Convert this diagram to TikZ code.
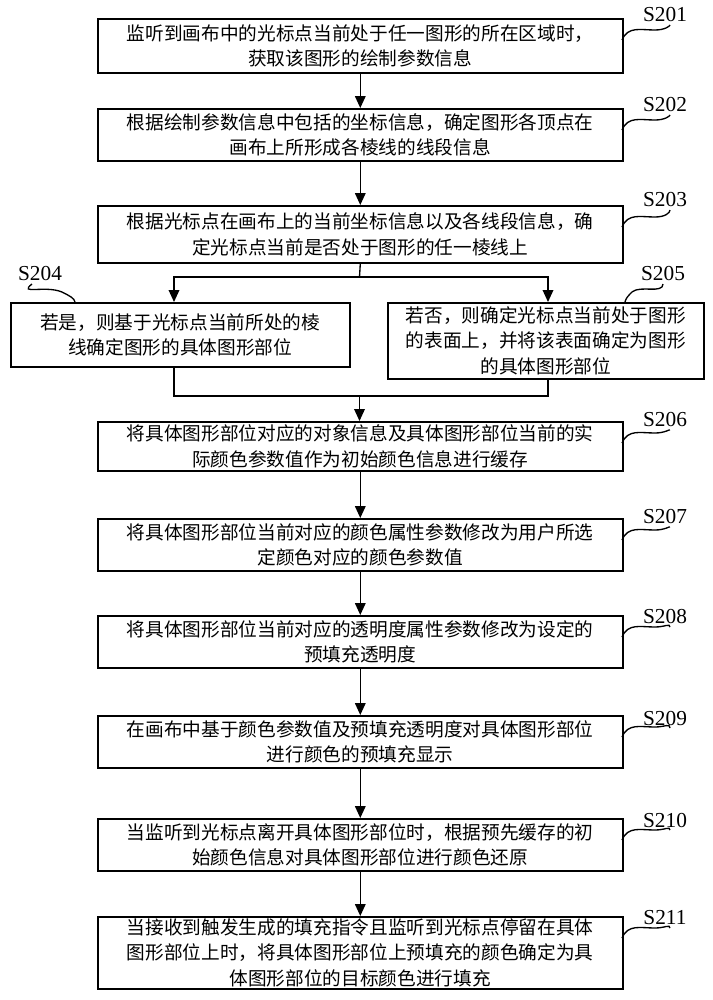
\documentclass[tikz,border=0pt]{standalone}
\usepackage{fontspec}
\setmainfont{Liberation Serif}
\newfontfamily\cjk{Noto Sans CJK SC}
\usetikzlibrary{arrows.meta}
\begin{document}
\begin{tikzpicture}[x=0.75pt,y=-0.75pt,
 box/.style={draw,line width=1.2pt,align=center,inner sep=0pt,font=\cjk\fontsize{14}{19}\selectfont},
 arr/.style={line width=1pt,-{Triangle[length=9pt,width=8pt]}},
 lab/.style={font=\fontsize{16}{16}\selectfont,inner sep=0pt},
 lead/.style={line width=1pt}]
\useasboundingbox (0,0) rectangle (713,1000);
\newcommand{\mainbox}[4]{\node[box,minimum width=525*0.75pt,minimum height={(#3-#2)*0.75pt},anchor=north west] (#1) at (97,#2) {#4};}
\mainbox{b1}{18}{72}{监听到画布中的光标点当前处于任一图形的所在区域时，\\获取该图形的绘制参数信息}
\mainbox{b2}{108}{160}{根据绘制参数信息中包括的坐标信息，确定图形各顶点在\\画布上所形成各棱线的线段信息}
\mainbox{b3}{205}{262}{根据光标点在画布上的当前坐标信息以及各线段信息，确\\定光标点当前是否处于图形的任一棱线上}
\node[box,minimum width=339*0.75pt,minimum height=64*0.75pt,anchor=north west] (b4) at (10,302) {若是，则基于光标点当前所处的棱\\线确定图形的具体图形部位};
\node[box,minimum width=316*0.75pt,minimum height=76*0.75pt,anchor=north west] (b5) at (387,302) {若否，则确定光标点当前处于图形\\的表面上，并将该表面确定为图形\\的具体图形部位};
\mainbox{b6}{421}{470}{将具体图形部位对应的对象信息及具体图形部位当前的实\\际颜色参数值作为初始颜色信息进行缓存}
\mainbox{b7}{518}{570}{将具体图形部位当前对应的颜色属性参数修改为用户所选\\定颜色对应的颜色参数值}
\mainbox{b8}{615}{667}{将具体图形部位当前对应的透明度属性参数修改为设定的\\预填充透明度}
\mainbox{b9}{715}{767}{在画布中基于颜色参数值及预填充透明度对具体图形部位\\进行颜色的预填充显示}
\mainbox{b10}{818}{870}{当监听到光标点离开具体图形部位时，根据预先缓存的初\\始颜色信息对具体图形部位进行颜色还原}
\mainbox{b11}{916}{988}{当接收到触发生成的填充指令且监听到光标点停留在具体\\图形部位上时，将具体图形部位上预填充的颜色确定为具\\体图形部位的目标颜色进行填充}
\draw[arr] (b1) -- (b2);
\draw[arr] (b2) -- (b3);
\coordinate (sp) at (359.5,277);
\coordinate (mg) at (359.5,396);
\coordinate (lx) at (174,0);
\coordinate (rx) at (548,0);
\draw[lead] (b3.south) -- (sp);
\draw[arr] (sp) -| (lx |- b4.north);
\draw[arr] (sp) -| (rx |- b5.north);
\draw[lead] (lx |- b4.south) |- (mg);
\draw[lead] (rx |- b5.south) |- (mg);
\draw[arr] (mg) -- (mg |- b6.north);
\draw[arr] (b6) -- (b7);
\draw[arr] (b7) -- (b8);
\draw[arr] (b8) -- (b9);
\draw[arr] (b9) -- (b10);
\draw[arr] (b10) -- (b11);
\foreach \n/\y/\t in {201/15/18,202/105/108,203/200/205,206/420/421,207/517/518,208/617/615,209/718/715,210/820/818,211/918/916}{
 \node[lab] (L\n) at (665,\y) {S\n};
 \draw[lead] (622,\t+22) .. controls (628,\t+8) and (640,\t+12) .. (655,\t+12) .. controls (665,\t+12) and (670,\t+8) .. (670,\y+10);
}
\node[lab] (L204) at (40,274) {S204};
\draw[lead] (32,284) .. controls (18,295) and (45,285) .. (62,292) .. controls (70,296) and (74,298) .. (75,302);
\node[lab] (L205) at (663,274) {S205};
\draw[lead] (663,284) .. controls (663,294) and (640,285) .. (632,292) .. controls (628,296) and (626,298) .. (625,302);
\end{tikzpicture}
\end{document}
